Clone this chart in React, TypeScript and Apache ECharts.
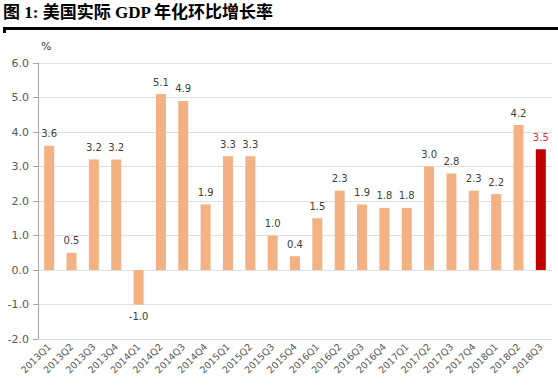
import React, { useEffect, useRef } from "react";
import * as echarts from "echarts";

const categories = [
  "2013Q1", "2013Q2", "2013Q3", "2013Q4",
  "2014Q1", "2014Q2", "2014Q3", "2014Q4",
  "2015Q1", "2015Q2", "2015Q3", "2015Q4",
  "2016Q1", "2016Q2", "2016Q3", "2016Q4",
  "2017Q1", "2017Q2", "2017Q3", "2017Q4",
  "2018Q1", "2018Q2", "2018Q3",
];
const growth = [
  3.6, 0.5, 3.2, 3.2,
  -1.0, 5.1, 4.9, 1.9,
  3.3, 3.3, 1.0, 0.4,
  1.5, 2.3, 1.9, 1.8,
  1.8, 3.0, 2.8, 2.3,
  2.2, 4.2, 3.5,
];
const highlightIndex = 22;
const titleText = "图 1: 美国实际 GDP 年化环比增长率";

export default function App() {
  const ref = useRef<HTMLDivElement>(null);
  useEffect(() => {
    if (!ref.current) return;
    const chart = echarts.init(ref.current, undefined, { renderer: "svg" });
    const data = growth.map((v, i) => {
      const hi = i === highlightIndex;
      return {
        value: v,
        itemStyle: { color: hi ? "#C00000" : "#F4B183" },
        label: {
          position: v < 0 ? "bottom" : "top",
          color: hi ? "#E03030" : "#404040",
        },
      };
    });
    chart.setOption({
      animation: false,
      backgroundColor: "#ffffff",
      graphic: [
        {
          type: "text",
          left: 3,
          top: 4,
          style: {
            text: titleText,
            font: 'bold 17px "Liberation Serif", "Noto Sans CJK SC", serif',
            fill: "#000000",
          },
        },
        {
          type: "rect",
          shape: { x: 3, y: 27, width: 555, height: 3 },
          style: { fill: "#000000" },
        },
        {
          type: "rect",
          shape: { x: 3, y: 30, width: 3, height: 3 },
          style: { fill: "#000000" },
        },
        {
          type: "text",
          left: 41,
          top: 41,
          style: {
            text: "%",
            font: '11px "DejaVu Sans", sans-serif',
            fill: "#404040",
          },
        },
      ],
      grid: { left: 38, right: 6, top: 63, bottom: 51, containLabel: false },
      xAxis: {
        type: "category",
        data: categories,
        axisLine: { show: false },
        axisTick: { show: false },
        axisLabel: {
          rotate: 45,
          interval: 0,
          color: "#595959",
          fontSize: 9.5,
          fontFamily: "DejaVu Sans",
          margin: 6,
        },
      },
      yAxis: {
        type: "value",
        min: -2,
        max: 6,
        interval: 1,
        axisLine: { show: true, lineStyle: { color: "#A6A6A6", width: 1 } },
        axisTick: { show: true, length: 5, lineStyle: { color: "#A6A6A6" } },
        axisLabel: {
          formatter: (v: number) => v.toFixed(1),
          color: "#595959",
          fontSize: 11,
          fontFamily: "DejaVu Sans",
          margin: 9,
        },
        splitLine: { show: true, lineStyle: { color: "#E0E0E0", width: 1 } },
      },
      series: [
        {
          type: "bar",
          data,
          barWidth: 10,
          label: {
            show: true,
            formatter: (p: any) => Number(p.value).toFixed(1),
            fontSize: 10,
            fontFamily: "DejaVu Sans",
            distance: 7,
          },
        },
      ],
    });
    return () => chart.dispose();
  }, []);
  return <div ref={ref} style={{ width: 558, height: 390, position: "absolute", left: 0, top: 0 }} />;
}
